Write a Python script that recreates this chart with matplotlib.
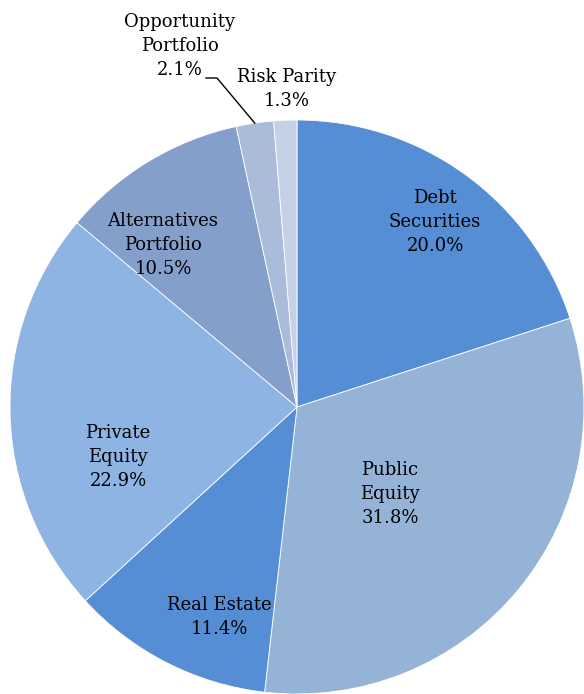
import numpy as np
import matplotlib.pyplot as plt

# asset allocation
labels = ["Debt\nSecurities", "Public\nEquity", "Real Estate", "Private\nEquity",
          "Alternatives\nPortfolio", "Opportunity\nPortfolio", "Risk Parity"]
shares = [20.0, 31.8, 11.4, 22.9, 10.5, 2.1, 1.3]
colors = ["#558ed5", "#95b3d7", "#558ed5", "#8eb4e3", "#859fcb", "#abbcda", "#c4d1e6"]

# label centres, offset from the pie centre (px)
label_pos = [(138, 185), (93, -87), (-78, -210), (-179, -50),
             (-134, 162), (-117, 361), (-10, 318)]

R = 287
fig = plt.figure(figsize=(5.84, 6.94), dpi=100)
ax = fig.add_axes([0, 0, 1, 1])

wedges, _ = ax.pie(shares, colors=colors, startangle=90, counterclock=False,
                   radius=R, center=(0, 0), frame=True,
                   wedgeprops=dict(edgecolor="white", linewidth=0.6))
ax.set_xlim(-297, 287)
ax.set_ylim(-287, 407)
ax.set_aspect("equal")
ax.axis("off")

for lab, val, (x, y) in zip(labels, shares, label_pos):
    ax.text(x, y, f"{lab}\n{val:.1f}%", ha="center", va="center",
            fontsize=13, family="DejaVu Serif", linespacing=1.42, color="black")

# leader line for the small opportunity slice
w = wedges[5]
mid = np.deg2rad((w.theta1 + w.theta2) / 2)
ex, ey = R * np.cos(mid), R * np.sin(mid)
ax.plot([-91, -80, ex], [329, 329, ey], color="black", lw=1)

fig.savefig("out.png", dpi=100)
